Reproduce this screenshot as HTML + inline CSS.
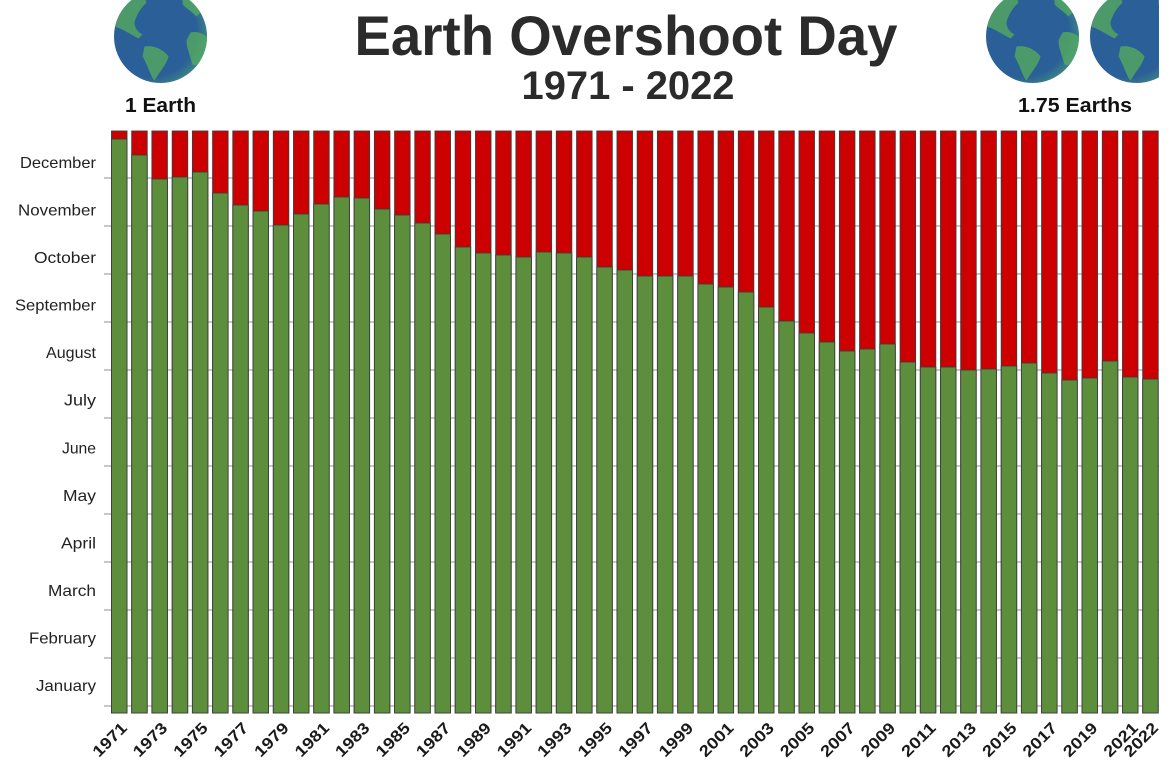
<!DOCTYPE html>
<html><head><meta charset="utf-8"><style>
html,body{margin:0;padding:0;background:#fff;}
svg{display:block;}
text{font-family:"Liberation Sans",sans-serif;}
</style></head><body>
<svg width="1176" height="768" viewBox="0 0 1176 768" xmlns="http://www.w3.org/2000/svg">
<defs>
<clipPath id="gc"><circle cx="0" cy="0" r="46.5"/></clipPath>
<radialGradient id="rim" cx="0.4" cy="0.45" r="0.62">
<stop offset="0.78" stop-color="#4fae6e" stop-opacity="0"/>
<stop offset="1" stop-color="#4fae6e" stop-opacity="0.5"/>
</radialGradient>
<g id="globe">
<circle cx="0" cy="0" r="46.5" fill="#2a5f98"/>
<g clip-path="url(#gc)" fill="#4c9a6a">
<path d="M -44,-20 C -38,-32 -26,-40 -16,-40 L -14,-34 C -20,-28 -24,-22 -26,-14 C -26,-8 -22,-4 -18,-2 L -22,2 C -30,-2 -38,-8 -46,-10 Z"/>
<path d="M -4,-46 C 2,-47 8,-45 6,-41 C 2,-39 -3,-40 -5,-43 Z"/>
<path d="M -16,10 C -6,8 4,14 8,20 C 6,28 0,34 -6,44 C -10,40 -12,30 -18,20 Z"/>
<path d="M 30,-4 C 38,-6 44,-2 48,2 L 48,20 C 42,26 36,30 32,28 C 30,20 26,12 26,4 Z"/>
<path d="M 22,-40 C 30,-42 38,-34 42,-26 L 36,-20 C 32,-24 26,-28 22,-32 Z"/>
</g>
<circle cx="0" cy="0" r="46.5" fill="url(#rim)"/>
</g>
<clipPath id="rc"><rect x="1040" y="-20" width="119" height="120"/></clipPath>
</defs>

<use href="#globe" transform="translate(160.5,36.5)"/>
<use href="#globe" transform="translate(1032.5,36.5)"/>
<g clip-path="url(#rc)"><use href="#globe" transform="translate(1136.5,36.5)"/></g>

<text x="626" y="55" text-anchor="middle" font-size="56" font-weight="bold" fill="#2b2b2b" textLength="543" lengthAdjust="spacingAndGlyphs">Earth Overshoot Day</text>
<text x="628" y="99" text-anchor="middle" font-size="40" font-weight="bold" fill="#2b2b2b" textLength="213" lengthAdjust="spacingAndGlyphs">1971 - 2022</text>
<text x="125" y="112" font-size="20" font-weight="bold" fill="#111" textLength="71" lengthAdjust="spacingAndGlyphs">1 Earth</text>
<text x="1018" y="112" font-size="20" font-weight="bold" fill="#111" textLength="114" lengthAdjust="spacingAndGlyphs">1.75 Earths</text>

<g stroke="#a8a8a8" stroke-width="1.2">
<line x1="104" y1="178" x2="1159" y2="178"/>
<line x1="104" y1="226" x2="1159" y2="226"/>
<line x1="104" y1="274" x2="1159" y2="274"/>
<line x1="104" y1="322" x2="1159" y2="322"/>
<line x1="104" y1="370" x2="1159" y2="370"/>
<line x1="104" y1="418" x2="1159" y2="418"/>
<line x1="104" y1="466" x2="1159" y2="466"/>
<line x1="104" y1="514" x2="1159" y2="514"/>
<line x1="104" y1="562" x2="1159" y2="562"/>
<line x1="104" y1="610" x2="1159" y2="610"/>
<line x1="104" y1="658" x2="1159" y2="658"/>
<line x1="104" y1="706" x2="1159" y2="706"/>
</g>

<g font-size="16" fill="#222" text-anchor="end">
<text x="96" y="168" textLength="76" lengthAdjust="spacingAndGlyphs">December</text>
<text x="96" y="215.5" textLength="78" lengthAdjust="spacingAndGlyphs">November</text>
<text x="96" y="263" textLength="62" lengthAdjust="spacingAndGlyphs">October</text>
<text x="96" y="310.6" textLength="81" lengthAdjust="spacingAndGlyphs">September</text>
<text x="96" y="358.2" textLength="50" lengthAdjust="spacingAndGlyphs">August</text>
<text x="96" y="405.7" textLength="32" lengthAdjust="spacingAndGlyphs">July</text>
<text x="96" y="453.3" textLength="34" lengthAdjust="spacingAndGlyphs">June</text>
<text x="96" y="500.8" textLength="33" lengthAdjust="spacingAndGlyphs">May</text>
<text x="96" y="548.4" textLength="35" lengthAdjust="spacingAndGlyphs">April</text>
<text x="96" y="596" textLength="48" lengthAdjust="spacingAndGlyphs">March</text>
<text x="96" y="643.5" textLength="67" lengthAdjust="spacingAndGlyphs">February</text>
<text x="96" y="691" textLength="60" lengthAdjust="spacingAndGlyphs">January</text>
</g>

<g stroke="#3c3c3c" stroke-width="0.9">
<g fill="#cc0000">
<rect x="111.5" y="131" width="15.5" height="582"/>
<rect x="131.7" y="131" width="15.5" height="582"/>
<rect x="151.9" y="131" width="15.5" height="582"/>
<rect x="172.2" y="131" width="15.5" height="582"/>
<rect x="192.4" y="131" width="15.5" height="582"/>
<rect x="212.6" y="131" width="15.5" height="582"/>
<rect x="232.8" y="131" width="15.5" height="582"/>
<rect x="253.0" y="131" width="15.5" height="582"/>
<rect x="273.3" y="131" width="15.5" height="582"/>
<rect x="293.5" y="131" width="15.5" height="582"/>
<rect x="313.7" y="131" width="15.5" height="582"/>
<rect x="333.9" y="131" width="15.5" height="582"/>
<rect x="354.1" y="131" width="15.5" height="582"/>
<rect x="374.4" y="131" width="15.5" height="582"/>
<rect x="394.6" y="131" width="15.5" height="582"/>
<rect x="414.8" y="131" width="15.5" height="582"/>
<rect x="435.0" y="131" width="15.5" height="582"/>
<rect x="455.2" y="131" width="15.5" height="582"/>
<rect x="475.5" y="131" width="15.5" height="582"/>
<rect x="495.7" y="131" width="15.5" height="582"/>
<rect x="515.9" y="131" width="15.5" height="582"/>
<rect x="536.1" y="131" width="15.5" height="582"/>
<rect x="556.3" y="131" width="15.5" height="582"/>
<rect x="576.6" y="131" width="15.5" height="582"/>
<rect x="596.8" y="131" width="15.5" height="582"/>
<rect x="617.0" y="131" width="15.5" height="582"/>
<rect x="637.2" y="131" width="15.5" height="582"/>
<rect x="657.4" y="131" width="15.5" height="582"/>
<rect x="677.7" y="131" width="15.5" height="582"/>
<rect x="697.9" y="131" width="15.5" height="582"/>
<rect x="718.1" y="131" width="15.5" height="582"/>
<rect x="738.3" y="131" width="15.5" height="582"/>
<rect x="758.5" y="131" width="15.5" height="582"/>
<rect x="778.8" y="131" width="15.5" height="582"/>
<rect x="799.0" y="131" width="15.5" height="582"/>
<rect x="819.2" y="131" width="15.5" height="582"/>
<rect x="839.4" y="131" width="15.5" height="582"/>
<rect x="859.6" y="131" width="15.5" height="582"/>
<rect x="879.8" y="131" width="15.5" height="582"/>
<rect x="900.1" y="131" width="15.5" height="582"/>
<rect x="920.3" y="131" width="15.5" height="582"/>
<rect x="940.5" y="131" width="15.5" height="582"/>
<rect x="960.7" y="131" width="15.5" height="582"/>
<rect x="980.9" y="131" width="15.5" height="582"/>
<rect x="1001.2" y="131" width="15.5" height="582"/>
<rect x="1021.4" y="131" width="15.5" height="582"/>
<rect x="1041.6" y="131" width="15.5" height="582"/>
<rect x="1061.8" y="131" width="15.5" height="582"/>
<rect x="1082.0" y="131" width="15.5" height="582"/>
<rect x="1102.3" y="131" width="15.5" height="582"/>
<rect x="1122.5" y="131" width="15.5" height="582"/>
<rect x="1142.7" y="131" width="15.5" height="582"/>
</g>
<g fill="#5d8e3c">
<rect x="111.5" y="139" width="15.5" height="574"/>
<rect x="131.7" y="155" width="15.5" height="558"/>
<rect x="151.9" y="179" width="15.5" height="534"/>
<rect x="172.2" y="177" width="15.5" height="536"/>
<rect x="192.4" y="172" width="15.5" height="541"/>
<rect x="212.6" y="193" width="15.5" height="520"/>
<rect x="232.8" y="205" width="15.5" height="508"/>
<rect x="253.0" y="211" width="15.5" height="502"/>
<rect x="273.3" y="225" width="15.5" height="488"/>
<rect x="293.5" y="214" width="15.5" height="499"/>
<rect x="313.7" y="204" width="15.5" height="509"/>
<rect x="333.9" y="197" width="15.5" height="516"/>
<rect x="354.1" y="198" width="15.5" height="515"/>
<rect x="374.4" y="209" width="15.5" height="504"/>
<rect x="394.6" y="215" width="15.5" height="498"/>
<rect x="414.8" y="223" width="15.5" height="490"/>
<rect x="435.0" y="234" width="15.5" height="479"/>
<rect x="455.2" y="247" width="15.5" height="466"/>
<rect x="475.5" y="253" width="15.5" height="460"/>
<rect x="495.7" y="255" width="15.5" height="458"/>
<rect x="515.9" y="257" width="15.5" height="456"/>
<rect x="536.1" y="252" width="15.5" height="461"/>
<rect x="556.3" y="253" width="15.5" height="460"/>
<rect x="576.6" y="257" width="15.5" height="456"/>
<rect x="596.8" y="267" width="15.5" height="446"/>
<rect x="617.0" y="270" width="15.5" height="443"/>
<rect x="637.2" y="276" width="15.5" height="437"/>
<rect x="657.4" y="276" width="15.5" height="437"/>
<rect x="677.7" y="276" width="15.5" height="437"/>
<rect x="697.9" y="284" width="15.5" height="429"/>
<rect x="718.1" y="287" width="15.5" height="426"/>
<rect x="738.3" y="292" width="15.5" height="421"/>
<rect x="758.5" y="307" width="15.5" height="406"/>
<rect x="778.8" y="321" width="15.5" height="392"/>
<rect x="799.0" y="333" width="15.5" height="380"/>
<rect x="819.2" y="342" width="15.5" height="371"/>
<rect x="839.4" y="351" width="15.5" height="362"/>
<rect x="859.6" y="349" width="15.5" height="364"/>
<rect x="879.8" y="344" width="15.5" height="369"/>
<rect x="900.1" y="362" width="15.5" height="351"/>
<rect x="920.3" y="367" width="15.5" height="346"/>
<rect x="940.5" y="367" width="15.5" height="346"/>
<rect x="960.7" y="370" width="15.5" height="343"/>
<rect x="980.9" y="369" width="15.5" height="344"/>
<rect x="1001.2" y="366" width="15.5" height="347"/>
<rect x="1021.4" y="363" width="15.5" height="350"/>
<rect x="1041.6" y="373" width="15.5" height="340"/>
<rect x="1061.8" y="380" width="15.5" height="333"/>
<rect x="1082.0" y="378" width="15.5" height="335"/>
<rect x="1102.3" y="361" width="15.5" height="352"/>
<rect x="1122.5" y="377" width="15.5" height="336"/>
<rect x="1142.7" y="379" width="15.5" height="334"/>
</g>
</g>

<g font-size="16" font-weight="bold" fill="#1a1a1a" text-anchor="end">
<text transform="translate(128,729) rotate(-45)" textLength="41" lengthAdjust="spacingAndGlyphs">1971</text>
<text transform="translate(168.4,729) rotate(-45)" textLength="41" lengthAdjust="spacingAndGlyphs">1973</text>
<text transform="translate(208.9,729) rotate(-45)" textLength="41" lengthAdjust="spacingAndGlyphs">1975</text>
<text transform="translate(249.3,729) rotate(-45)" textLength="41" lengthAdjust="spacingAndGlyphs">1977</text>
<text transform="translate(289.8,729) rotate(-45)" textLength="41" lengthAdjust="spacingAndGlyphs">1979</text>
<text transform="translate(330.2,729) rotate(-45)" textLength="41" lengthAdjust="spacingAndGlyphs">1981</text>
<text transform="translate(370.6,729) rotate(-45)" textLength="41" lengthAdjust="spacingAndGlyphs">1983</text>
<text transform="translate(411.1,729) rotate(-45)" textLength="41" lengthAdjust="spacingAndGlyphs">1985</text>
<text transform="translate(451.5,729) rotate(-45)" textLength="41" lengthAdjust="spacingAndGlyphs">1987</text>
<text transform="translate(492.0,729) rotate(-45)" textLength="41" lengthAdjust="spacingAndGlyphs">1989</text>
<text transform="translate(532.4,729) rotate(-45)" textLength="41" lengthAdjust="spacingAndGlyphs">1991</text>
<text transform="translate(572.8,729) rotate(-45)" textLength="41" lengthAdjust="spacingAndGlyphs">1993</text>
<text transform="translate(613.3,729) rotate(-45)" textLength="41" lengthAdjust="spacingAndGlyphs">1995</text>
<text transform="translate(653.7,729) rotate(-45)" textLength="41" lengthAdjust="spacingAndGlyphs">1997</text>
<text transform="translate(694.2,729) rotate(-45)" textLength="41" lengthAdjust="spacingAndGlyphs">1999</text>
<text transform="translate(734.6,729) rotate(-45)" textLength="41" lengthAdjust="spacingAndGlyphs">2001</text>
<text transform="translate(775.0,729) rotate(-45)" textLength="41" lengthAdjust="spacingAndGlyphs">2003</text>
<text transform="translate(815.5,729) rotate(-45)" textLength="41" lengthAdjust="spacingAndGlyphs">2005</text>
<text transform="translate(855.9,729) rotate(-45)" textLength="41" lengthAdjust="spacingAndGlyphs">2007</text>
<text transform="translate(896.3,729) rotate(-45)" textLength="41" lengthAdjust="spacingAndGlyphs">2009</text>
<text transform="translate(936.8,729) rotate(-45)" textLength="41" lengthAdjust="spacingAndGlyphs">2011</text>
<text transform="translate(977.2,729) rotate(-45)" textLength="41" lengthAdjust="spacingAndGlyphs">2013</text>
<text transform="translate(1017.7,729) rotate(-45)" textLength="41" lengthAdjust="spacingAndGlyphs">2015</text>
<text transform="translate(1058.1,729) rotate(-45)" textLength="41" lengthAdjust="spacingAndGlyphs">2017</text>
<text transform="translate(1098.5,729) rotate(-45)" textLength="41" lengthAdjust="spacingAndGlyphs">2019</text>
<text transform="translate(1139.0,729) rotate(-45)" textLength="41" lengthAdjust="spacingAndGlyphs">2021</text>
<text transform="translate(1159.2,729) rotate(-45)" textLength="41" lengthAdjust="spacingAndGlyphs">2022</text>
</g>
</svg>
</body></html>
